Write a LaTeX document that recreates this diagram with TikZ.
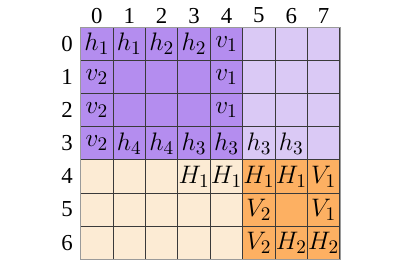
\documentclass[tikz,border=0pt]{standalone}
\usepackage{fontspec}
\setmainfont{Liberation Serif}
\definecolor{deeplilac}{HTML}{B48DEF}
\definecolor{palelilac}{HTML}{DAC9F5}
\definecolor{paleblush}{HTML}{FCEBD4}
\definecolor{apricot}{HTML}{FDB062}
\definecolor{gridline}{HTML}{3A3A3A}
\definecolor{rimgray}{HTML}{9A9A9A}
\tikzset{
  cell/.style={draw=gridline, line width=0.5pt, minimum width=0.648cm, minimum height=0.662cm, inner sep=0pt},
  entry/.style={inner sep=0pt, font=\fontsize{15}{17}\selectfont},
  index/.style={inner sep=0pt, font=\fontsize{13}{15}\selectfont}
}
\begin{document}
\begin{tikzpicture}[x=0.648cm,y=-0.662cm]
\useasboundingbox (-2.49,-0.831) rectangle (9.824,7.205);
% four coloured blocks
\foreach \r in {0,...,3} \foreach \c in {0,...,4}
  \node[cell, fill=deeplilac] (cell-\r-\c) at (\c+0.5,\r+0.5) {};
\foreach \r in {0,...,3} \foreach \c in {5,6,7}
  \node[cell, fill=palelilac] (cell-\r-\c) at (\c+0.5,\r+0.5) {};
\foreach \r in {4,5,6} \foreach \c in {0,...,4}
  \node[cell, fill=paleblush] (cell-\r-\c) at (\c+0.5,\r+0.5) {};
\foreach \r in {4,5,6} \foreach \c in {5,6,7}
  \node[cell, fill=apricot] (cell-\r-\c) at (\c+0.5,\r+0.5) {};
\draw[rimgray, line width=0.6pt] (cell-0-0.north west) rectangle (cell-6-7.south east);
% indices
\foreach \c in {0,...,7}
  \node[index] (col-\c) at (\c+0.5,-0.36) {\c};
\foreach \r in {0,...,6}
  \node[index] (row-\r) at (-0.42,\r+0.5) {\r};
% entries
\foreach \r/\c/\t in {0/0/h_1, 0/1/h_1, 0/2/h_2, 0/3/h_2, 0/4/v_1,
    1/0/v_2, 1/4/v_1, 2/0/v_2, 2/4/v_1,
    3/0/v_2, 3/1/h_4, 3/2/h_4, 3/3/h_3, 3/4/h_3, 3/5/h_3, 3/6/h_3,
    4/3/H_1, 4/4/H_1, 4/5/H_1, 4/6/H_1, 4/7/V_1,
    5/5/V_2, 5/7/V_1, 6/5/V_2, 6/6/H_2, 6/7/H_2}
  \node[entry] (e-\r-\c) at (cell-\r-\c) {$\t$};
\end{tikzpicture}
\end{document}
